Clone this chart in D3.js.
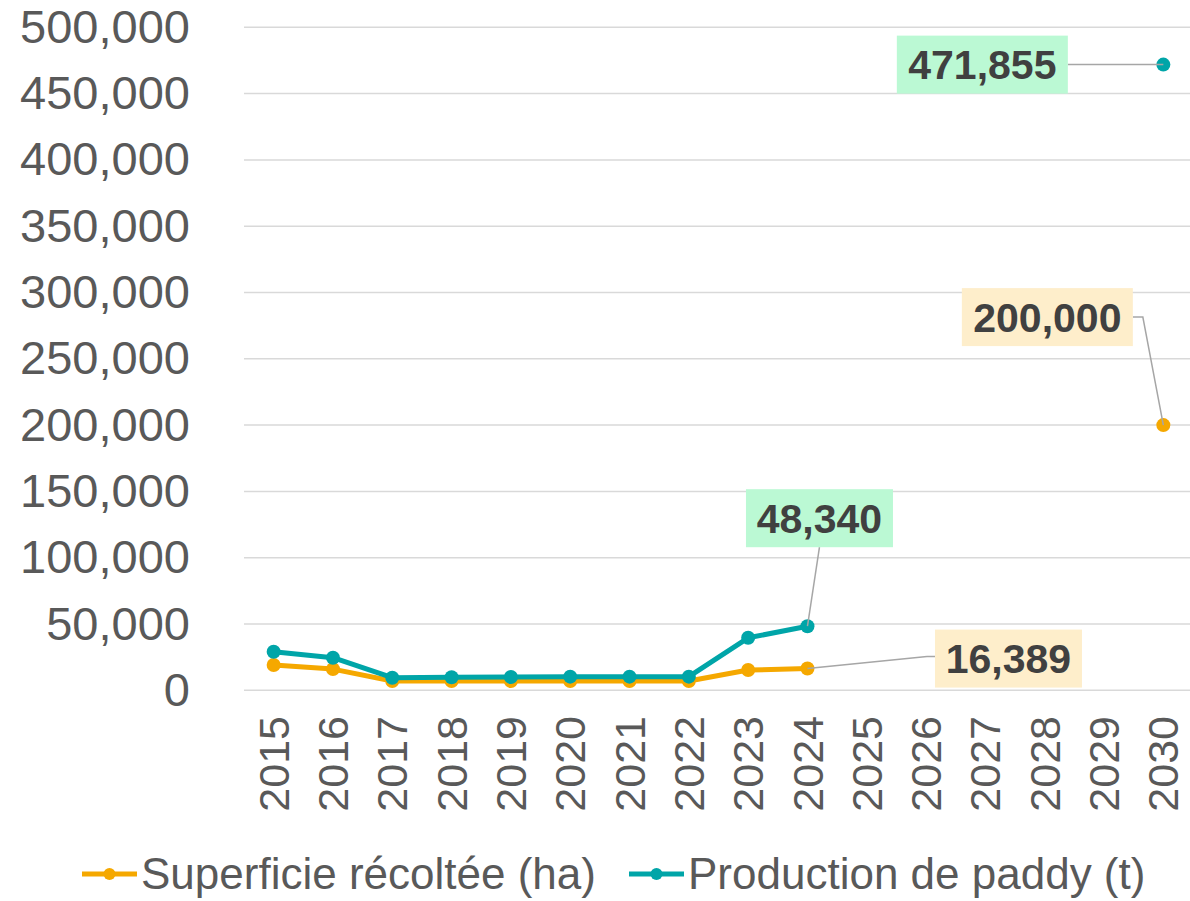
<!DOCTYPE html>
<html>
<head>
<meta charset="utf-8">
<script src="https://cdn.jsdelivr.net/npm/d3@7"></script>
<style>
  body { margin: 0; background: #fff; }
  svg { display: block; font-family: "Liberation Sans", Arial, sans-serif; }
</style>
</head>
<body>
<div id="chart"></div>
<script>
// data
const years = ["2015","2016","2017","2018","2019","2020","2021","2022","2023","2024","2025","2026","2027","2028","2029","2030"];
const superficie = [19100, 16000, 7000, 7000, 7000, 7000, 7000, 7000, 15300, 16389, null, null, null, null, null, 200000];
const production = [29100, 24600, 9500, 9800, 10000, 10300, 10300, 10300, 39600, 48340, null, null, null, null, null, 471855];
const yTicks = [0, 50000, 100000, 150000, 200000, 250000, 300000, 350000, 400000, 450000, 500000];
const seriesNames = ["Superficie récoltée (ha)", "Production de paddy (t)"];

const colors = ["#F5A800", "#00A5A8"];
const boxColors = ["#FEEECB", "#BBF9D4"];

// labelled points: series index, year, box offset, leader side
const callouts = [
  {s: 1, year: "2030", dx: -181, dy: 0, side: "right"},
  {s: 0, year: "2030", dx: -116, dy: -108, side: "right"},
  {s: 1, year: "2024", dx: 12, dy: -108, side: "bottom"},
  {s: 0, year: "2024", dx: 201, dy: -10, side: "left"}
];

const width = 1190, height = 901;
const svg = d3.select("#chart").append("svg")
  .attr("width", width)
  .attr("height", height);

const x = d3.scaleBand().domain(years).range([244, 1193]).padding(0);
const y = d3.scaleLinear().domain([0, 500000]).range([690.3, 27.3]);
const cx = d => x(d) + x.bandwidth() / 2;
const fmt = d3.format(",");

// gridlines
svg.append("g")
  .selectAll("line")
  .data(yTicks)
  .join("line")
  .attr("x1", 244).attr("x2", width)
  .attr("y1", d => y(d)).attr("y2", d => y(d))
  .attr("stroke", "#d9d9d9")
  .attr("stroke-width", 1.5);

// y axis labels
const yAxis = d3.axisLeft(y).tickValues(yTicks).tickFormat(fmt).tickSize(0).tickPadding(0);
svg.append("g")
  .attr("transform", "translate(190,0)")
  .call(yAxis)
  .call(g => g.select(".domain").remove())
  .selectAll("text")
  .attr("font-size", 47)
  .attr("font-family", "'Liberation Sans', Arial, sans-serif")
  .attr("fill", "#595959");

// x axis labels
svg.append("g")
  .selectAll("text")
  .data(years)
  .join("text")
  .attr("transform", d => `translate(${cx(d)},716) rotate(-90)`)
  .attr("text-anchor", "end")
  .attr("dy", "0.35em")
  .attr("font-size", 43)
  .attr("fill", "#595959")
  .text(d => d);

// lines + markers
const allSeries = [superficie, production];
allSeries.forEach((vals, i) => {
  const segs = years.map((yr, j) => ({year: yr, v: vals[j]}));
  const pts = segs.filter(p => p.v != null);
  const line = d3.line()
    .defined(p => p.v != null)
    .x(p => cx(p.year))
    .y(p => y(p.v));
  svg.append("path")
    .datum(segs)
    .attr("d", line)
    .attr("fill", "none")
    .attr("stroke", colors[i])
    .attr("stroke-width", 5)
    .attr("stroke-linejoin", "round");
  svg.append("g")
    .selectAll("circle")
    .data(pts)
    .join("circle")
    .attr("cx", p => cx(p.year))
    .attr("cy", p => y(p.v))
    .attr("r", 7)
    .attr("fill", colors[i]);
});

// callouts
const boxH = 58;
callouts.forEach(c => {
  const v = allSeries[c.s][years.indexOf(c.year)];
  const px = cx(c.year), py = y(v);
  const bx = px + c.dx, by = py + c.dy;
  const label = fmt(v);
  const w = label.length > 6 ? 171 : 147;
  let pts;
  if (c.side === "right") pts = [[bx + w / 2, by], [bx + w / 2 + 10, by], [px, py]];
  else if (c.side === "left") pts = [[bx - w / 2, by - 2], [bx - w / 2 - 8, by - 2], [px, py]];
  else pts = [[bx, by + boxH / 2], [px, py]];
  svg.append("path")
    .attr("d", d3.line()(pts))
    .attr("fill", "none")
    .attr("stroke", "#a6a6a6")
    .attr("stroke-width", 1.5);
  svg.append("rect")
    .attr("x", bx - w / 2).attr("y", by - boxH / 2)
    .attr("width", w).attr("height", boxH)
    .attr("fill", boxColors[c.s]);
  svg.append("text")
    .attr("x", bx).attr("y", by)
    .attr("dy", "0.36em")
    .attr("text-anchor", "middle")
    .attr("font-size", 41)
    .attr("font-weight", "bold")
    .attr("fill", "#404040")
    .text(label);
});

// legend
const legendItems = [{x: 82, i: 0}, {x: 629, i: 1}];
const lg = svg.append("g").selectAll("g").data(legendItems).join("g")
  .attr("transform", d => `translate(${d.x},874)`);
lg.append("line")
  .attr("x1", 0).attr("x2", 55)
  .attr("stroke", d => colors[d.i]).attr("stroke-width", 5);
lg.append("circle")
  .attr("cx", 27.5).attr("r", 6)
  .attr("fill", d => colors[d.i]);
lg.append("text")
  .attr("x", 59).attr("dy", "0.35em")
  .attr("font-size", 44)
  .attr("fill", "#595959")
  .text(d => seriesNames[d.i]);
</script>
</body>
</html>
